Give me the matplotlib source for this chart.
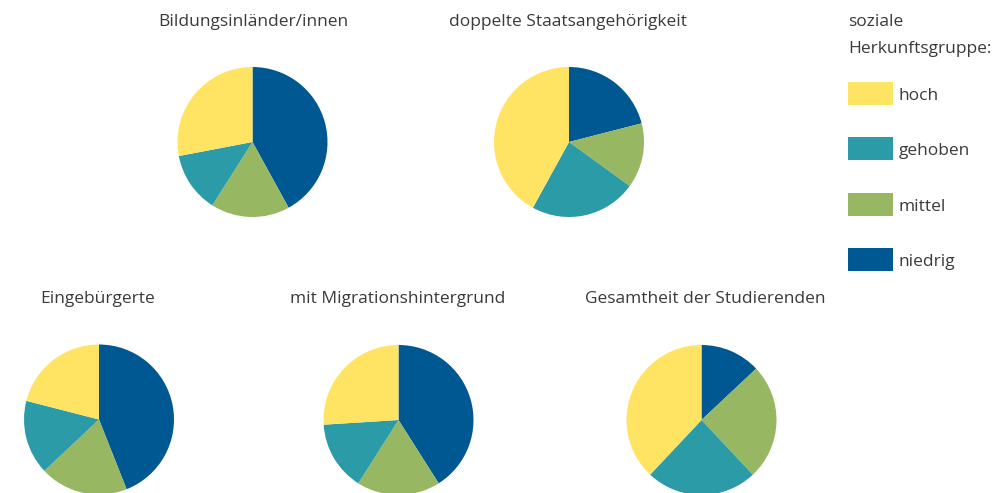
import matplotlib
matplotlib.use("Agg")
import matplotlib.pyplot as plt
from matplotlib.patches import Rectangle

plt.rcParams['font.family'] = ['Open Sans', 'DejaVu Sans']

# Data (shares in %, order: niedrig, mittel, gehoben, hoch)
groups = ["niedrig", "mittel", "gehoben", "hoch"]
legend_order = ["hoch", "gehoben", "mittel", "niedrig"]
titles = ["Bildungsinländer/innen", "doppelte Staatsangehörigkeit",
          "Eingebürgerte", "mit Migrationshintergrund", "Gesamtheit der Studierenden"]
bildungsinlaender = [42, 17, 13, 28]
doppelte = [21, 14, 23, 42]
eingebuergerte = [44, 19, 16, 21]
migration = [41, 18, 15, 26]
gesamt = [13, 25, 24, 38]
series = [bildungsinlaender, doppelte, eingebuergerte, migration, gesamt]

colors = {"niedrig": "#005892", "mittel": "#98B762", "gehoben": "#2C9BA8", "hoch": "#FFE464"}
text_color = "#3a3a3a"
fs = 12.5

W, H = 995, 493
fig = plt.figure(figsize=(W / 100, H / 100), dpi=100)

centers = [(252.5, 142), (569, 142), (99, 419.5), (398.5, 420), (701.5, 420)]
title_pos = [(253, 22), (568, 22), (98, 299), (398, 299), (705, 299)]
r = 75

for vals, (cx, cy), title, (tx, ty) in zip(series, centers, titles, title_pos):
    ax = fig.add_axes([(cx - r) / W, 1 - (cy + r) / H, 2 * r / W, 2 * r / H])
    ax.pie(vals, colors=[colors[g] for g in groups], startangle=90,
           counterclock=False, radius=1, wedgeprops=dict(linewidth=0))
    ax.set_xlim(-1, 1)
    ax.set_ylim(-1, 1)
    ax.set_aspect('auto')
    ax.axis('off')
    fig.text(tx / W, 1 - ty / H, title, ha='center', va='center',
             fontsize=fs, color=text_color)

# Legend
fig.text(848 / W, 1 - 22 / H, "soziale", ha='left', va='center', fontsize=fs, color=text_color)
fig.text(848 / W, 1 - 49 / H, "Herkunftsgruppe:", ha='left', va='center', fontsize=fs, color=text_color)
patch_y = [82, 137, 193, 248]
for g, py in zip(legend_order, patch_y):
    fig.patches.append(Rectangle((848 / W, 1 - (py + 23) / H), 45 / W, 23 / H,
                                 transform=fig.transFigure, facecolor=colors[g],
                                 edgecolor='none'))
    fig.text(899 / W, 1 - (py + 14) / H, g, ha='left', va='center',
             fontsize=fs, color=text_color)

fig.savefig("out.png", dpi=100)
